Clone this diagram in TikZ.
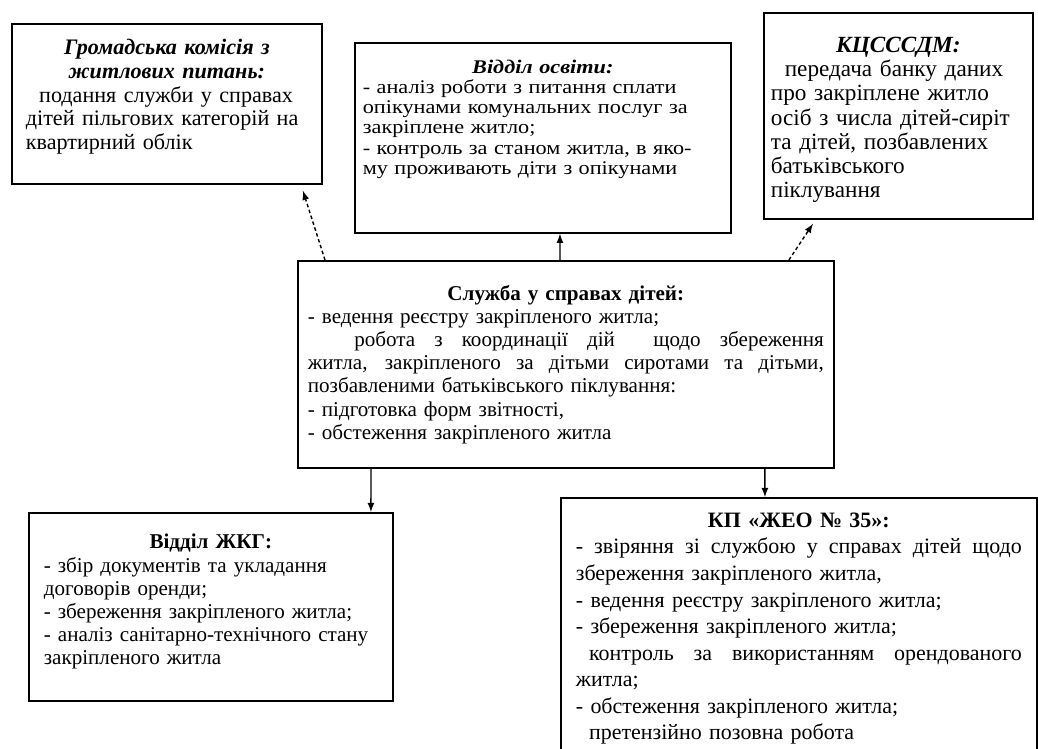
\documentclass[tikz,border=0pt]{standalone}
\usepackage{fontspec}
\setmainfont{Liberation Serif}
\newfontfamily\widefont[FakeStretch=1.15]{Liberation Serif}
\usetikzlibrary{arrows}

\newcommand{\fullline}[2]{\par\noindent\hbox to#1{\spaceskip=.3333em plus 1em minus .1em\xspaceskip=\spaceskip #2}\par}
\newcommand{\padbottom}[1]{\par\vspace{#1}\nointerlineskip\null}

\begin{document}
\begin{tikzpicture}[x=0.02cm, y=-0.02cm, every node/.style={draw, line width=1pt, anchor=north west, align=left, font={\fontsize{12}{13.2}\selectfont}}]
	\useasboundingbox (0,0) rectangle (1038,749);
	\clip (0,0) rectangle (1038,749);
	\node[text width=5.64cm, inner xsep=0.28cm, minimum height=3.2cm, font={\fontsize{12.6}{13.5}\selectfont}] (A) at (11,23) {{\centering\bfseries\itshape Громадська комісія з\\ житлових питань:\par}\hspace*{0.6em}подання служби у справах\\ дітей пільгових категорій на\\ квартирний облік\padbottom{0.28cm}};
	\node[text width=7.2cm, inner xsep=0.16cm, minimum height=3.8cm, font={\widefont\fontsize{11}{11.4}\selectfont}] (B) at (354,42) {{\centering\bfseries\itshape Відділ освіти:\par}- аналіз роботи з питання сплати\\ опікунами комунальних послуг за\\ закріплене житло;\\ - контроль за станом житла, в яко-\\ му проживають діти з опікунами\padbottom{0.74cm}};
	\node[text width=5.1cm, inner xsep=0.14cm, minimum height=4.12cm, font={\fontsize{13.2}{13.8}\selectfont}] (C) at (763,12) {{\centering\bfseries\itshape КЦСССДМ:\par}\hspace*{0.6em}передача банку даних\\ про закріплене житло\\ осіб з числа дітей-сиріт\\ та дітей, позбавлених\\ батьківського\\ піклування\padbottom{-0.16cm}};
	\node[text width=10.32cm, inner xsep=0.2cm, minimum height=4.14cm] (D) at (297,260) {{\centering\bfseries Служба у справах дітей:\par}- ведення реєстру закріпленого житла;\fullline{10.32cm}{\hspace*{2.2em}робота з координації дій \ щодо збереження}\fullline{10.32cm}{житла, закріпленого за дітьми сиротами та дітьми,}позбавленими батьківського піклування:\\ - підготовка форм звітності,\\ - обстеження закріпленого житла};
	\node[text width=6.68cm, inner xsep=0.3cm, minimum height=3.76cm] (E) at (28,512) {{\centering\bfseries Відділ ЖКГ:\par}- збір документів та укладання\\ договорів оренди;\\ - збереження закріпленого житла;\\ - аналіз санітарно-технічного стану\\ закріпленого житла\padbottom{0.2cm}};
	\node[text width=8.92cm, inner xsep=0.3cm, inner ysep=0.3cm, font={\fontsize{12.5}{15.1}\selectfont}] (F) at (560,497) {{\centering\bfseries КП «ЖЕО № 35»:\par}\fullline{8.92cm}{- звіряння зі службою у справах дітей щодо}збереження закріпленого житла,\\ - ведення реєстру закріпленого житла;\\ - збереження закріпленого житла;\fullline{8.92cm}{\hspace*{0.6em}контроль за використанням орендованого}житла;\\ - обстеження закріпленого житла;\\ \hspace*{0.6em}претензійно позовна робота};
	\draw[line width=0.8pt, dash pattern=on 2pt off 1.5pt, -latex] ([xshift=0.56cm]D.north west) -- ([xshift=5.84cm, yshift=-0.12cm]A.south west);
	\draw[line width=0.8pt, -latex] ([xshift=5.26cm]D.north west) -- ([xshift=4.12cm]B.south west);
	\draw[line width=0.8pt, dash pattern=on 2pt off 1.5pt, -latex] ([xshift=9.84cm]D.north west) -- ([xshift=1cm, yshift=-0.08cm]C.south west);
	\draw[line width=0.8pt, -latex] ([xshift=1.48cm]D.south west) -- ([xshift=6.86cm]E.north west);
	\draw[line width=0.8pt, -latex] ([xshift=9.36cm]D.south west) -- ([xshift=4.1cm]F.north west);
\end{tikzpicture}
\end{document}
